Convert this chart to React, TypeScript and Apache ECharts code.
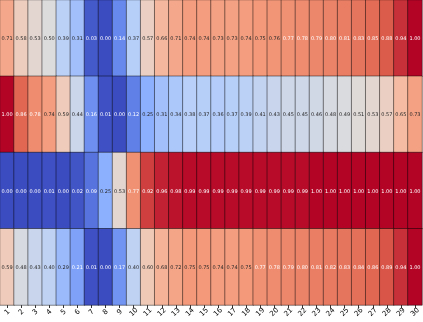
import React, { useEffect, useRef } from "react";
import * as echarts from "echarts";

const xLabels = Array.from({ length: 30 }, (_, i) => String(i + 1));
const rowNames = ["r1", "r2", "r3", "r4"];

const row1 = [0.71, 0.58, 0.53, 0.5, 0.39, 0.31, 0.03, 0.0, 0.14, 0.37, 0.57, 0.66, 0.71, 0.74, 0.74, 0.73, 0.73, 0.74, 0.75, 0.76, 0.77, 0.78, 0.79, 0.8, 0.81, 0.83, 0.85, 0.88, 0.94, 1.0];
const row2 = [1.0, 0.86, 0.78, 0.74, 0.59, 0.44, 0.16, 0.01, 0.0, 0.12, 0.25, 0.31, 0.34, 0.38, 0.37, 0.36, 0.37, 0.39, 0.41, 0.43, 0.45, 0.45, 0.46, 0.48, 0.49, 0.51, 0.53, 0.57, 0.65, 0.73];
const row3 = [0.0, 0.0, 0.0, 0.01, 0.0, 0.02, 0.09, 0.25, 0.53, 0.77, 0.92, 0.96, 0.98, 0.99, 0.99, 0.99, 0.99, 0.99, 0.99, 0.99, 0.99, 0.99, 1.0, 1.0, 1.0, 1.0, 1.0, 1.0, 1.0, 1.0];
const row4 = [0.59, 0.48, 0.43, 0.4, 0.29, 0.21, 0.01, 0.0, 0.17, 0.4, 0.6, 0.68, 0.72, 0.75, 0.75, 0.74, 0.74, 0.75, 0.77, 0.78, 0.79, 0.8, 0.81, 0.82, 0.83, 0.84, 0.86, 0.89, 0.94, 1.0];
const rows = [row1, row2, row3, row4];

const coolwarm: number[][] = [
  [59, 76, 192],
  [98, 130, 234],
  [141, 176, 254],
  [184, 208, 249],
  [221, 220, 220],
  [245, 196, 173],
  [244, 154, 123],
  [222, 96, 77],
  [180, 4, 38],
];

function cw(v: number): number[] {
  const t = Math.max(0, Math.min(1, v)) * (coolwarm.length - 1);
  const i = Math.min(coolwarm.length - 2, Math.floor(t));
  const f = t - i;
  return [0, 1, 2].map((k) => coolwarm[i][k] + (coolwarm[i + 1][k] - coolwarm[i][k]) * f);
}

function textColor(v: number): string {
  const c = cw(v).map((x) => {
    const s = x / 255;
    return s <= 0.03928 ? s / 12.92 : Math.pow((s + 0.055) / 1.055, 2.4);
  });
  const lum = 0.2126 * c[0] + 0.7152 * c[1] + 0.0722 * c[2];
  return lum > 0.408 ? "#262626" : "#ffffff";
}

export default function App() {
  const ref = useRef<HTMLDivElement>(null);
  useEffect(() => {
    if (!ref.current) return;
    const chart = echarts.init(ref.current, null, { renderer: "svg" });
    const data: any[] = [];
    rows.forEach((r, yi) =>
      r.forEach((v, xi) => {
        data.push({
          value: [xi, yi, v],
          label: { color: textColor(v) },
        });
      })
    );
    chart.setOption({
      animation: false,
      grid: { left: 0, right: 1, top: 0, bottom: 17, containLabel: false },
      xAxis: {
        type: "category",
        data: xLabels,
        axisLine: { show: false },
        axisTick: { show: true, alignWithLabel: true, length: 3, lineStyle: { color: "#333" } },
        axisLabel: {
          rotate: 45,
          fontSize: 7,
          color: "#000000",
          fontFamily: "DejaVu Sans",
          align: "center",
          verticalAlign: "middle",
          margin: 7,
          interval: 0,
          opacity: 0.99,
        },
        splitLine: { show: false },
      },
      yAxis: {
        type: "category",
        data: rowNames,
        inverse: true,
        show: false,
      },
      visualMap: {
        show: false,
        min: 0,
        max: 1,
        dimension: 2,
        seriesIndex: 0,
        inRange: { color: coolwarm.map((c) => `rgb(${c[0]},${c[1]},${c[2]})`) },
      },
      series: [
        {
          type: "heatmap",
          data,
          label: {
            show: true,
            fontSize: 5,
            fontFamily: "DejaVu Sans",
            formatter: (p: any) => p.value[2].toFixed(2),
          },
          itemStyle: { borderColor: "rgba(0,0,0,0.45)", borderWidth: 1 },
          emphasis: { disabled: true },
        },
      ],
    });
    return () => chart.dispose();
  }, []);
  return (
    <div
      ref={ref}
      style={{
        position: "absolute",
        left: 0,
        top: 0,
        width: 423,
        height: 322,
        willChange: "transform",
      }}
    />
  );
}
